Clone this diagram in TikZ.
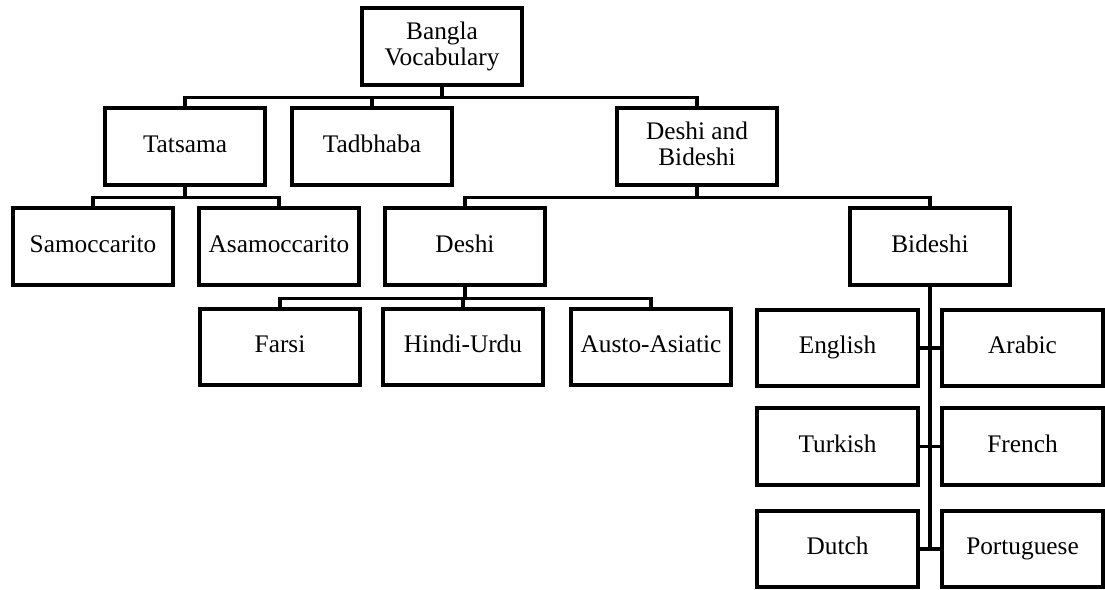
\documentclass[tikz,border=0pt]{standalone}
\usepackage{fontspec}
\setmainfont{Liberation Serif}

\begin{document}
\begin{tikzpicture}[
    x=0.025cm, y=-0.025cm,
    every node/.style={font=\fontsize{18}{19}\selectfont, align=center,
        execute at begin node={\rule[-4pt]{0pt}{16pt}}},
    box/.style={
        draw, line width=0.1cm,
        minimum width=4.0cm, minimum height=1.9cm, inner sep=2pt
    },
    line/.style={line width=0.095cm}
]
\useasboundingbox (0,0) rectangle (1105,590);

% --- Root ---
\node[box] (bangla) at (442,46.5) {Bangla\\Vocabulary};

% --- Second row: Tatsama + Tadbhaba + Deshi and Bideshi ---
\node[box] (tatsama) at (185,146.5) {Tatsama};
\node[box] (tadbhaba) at (372,146.5) {Tadbhaba};
\node[box] (deshibideshi) at (697,146.5) {Deshi and\\Bideshi};

% --- Third row ---
\node[box] (samoccarito) at (93,246.5) {Samoccarito};
\node[box] (asamoccarito) at (279,246.5) {Asamoccarito};
\node[box] (deshi) at (465,246.5) {Deshi};
\node[box] (bideshi) at (930,246.5) {Bideshi};

% --- Deshi children ---
\node[box] (farsi) at (280,347) {Farsi};
\node[box] (hindiurdu) at (463,347) {Hindi-Urdu};
\node[box] (austo) at (651,347) {Austo-Asiatic};

% --- Bideshi children (two columns) ---
\node[box] (english) at (837.5,348) {English};
\node[box] (arabic) at (1022.5,348) {Arabic};
\node[box] (turkish) at (837.5,446.5) {Turkish};
\node[box] (french) at (1022.5,446.5) {French};
\node[box] (dutch) at (837.5,549) {Dutch};
\node[box] (portuguese) at (1022.5,549) {Portuguese};

% --- Bracket connectors ---
\foreach \c in {tatsama, tadbhaba, deshibideshi}
    \draw[line] (bangla.south) -- ++(0,11) -| (\c.north);
\foreach \c in {samoccarito, asamoccarito}
    \draw[line] (tatsama.south) -- ++(0,11) -| (\c.north);
\foreach \c in {deshi, bideshi}
    \draw[line] (deshibideshi.south) -- ++(0,11) -| (\c.north);
\foreach \c in {farsi, hindiurdu, austo}
    \draw[line] (deshi.south) -- ++(0,12) -| (\c.north);

% Bideshi spine with side links
\draw[line] (bideshi.south) -- (bideshi.south |- dutch.east);
\draw[line] (english.east) -- (arabic.west);
\draw[line] (turkish.east) -- (french.west);
\draw[line] (dutch.east) -- (portuguese.west);

\end{tikzpicture}
\end{document}
